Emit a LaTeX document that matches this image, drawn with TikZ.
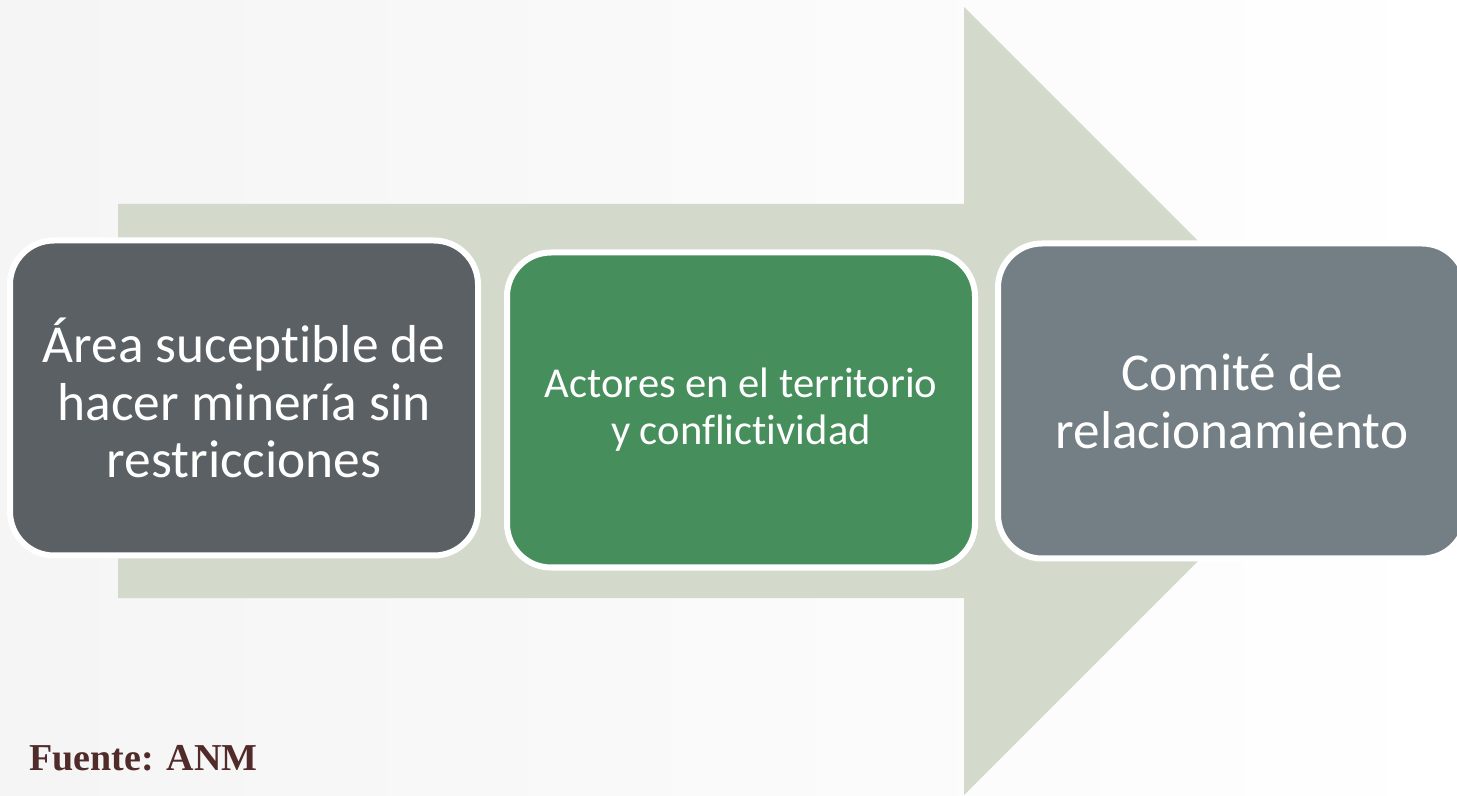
\documentclass[tikz,border=0pt]{standalone}
\usepackage{fontspec}
\setmainfont{Carlito}[Ligatures=NoCommon]
\newfontfamily\srcfont{Liberation Serif}
\definecolor{arrowgray}{HTML}{D4DACB}
\definecolor{boxdark}{HTML}{5A6064}
\definecolor{boxgreen}{HTML}{468E5C}
\definecolor{boxslate}{HTML}{737F84}
\definecolor{srcred}{HTML}{512A2A}
\tikzset{
  stepbox/.style={rectangle,rounded corners=22pt,draw=white,line width=3pt,
    minimum width=234pt,minimum height=157.5pt,inner sep=0pt,
    text=white,align=center}
}

\begin{document}
\begin{tikzpicture}[x=0.5pt,y=-0.5pt]
  \useasboundingbox (0,0) rectangle (1457,796);
  \shade[left color=black!4,right color=white] (0,0) rectangle (1457,796);

  % big arrow behind the boxes
  \fill[arrowgray] (118,204) -- (964,204) -- (964,7) -- (1358,401)
    -- (964,795) -- (964,598) -- (118,598) -- cycle;

  \node[stepbox,fill=boxdark,font=\fontsize{26.7}{28.8}\selectfont] (area) at (244,398)
    {Área suceptible de\\hacer minería sin\\restricciones};
  \node[stepbox,fill=boxgreen,font=\fontsize{21.3}{23.5}\selectfont] (actores) at (741,410)
    {Actores en el territorio\\y conflictividad};
  \node[stepbox,fill=boxslate,font=\fontsize{26.6}{29}\selectfont] (comite) at (1232,401)
    {Comité de\\relacionamiento};

  \node[anchor=base west,inner sep=0pt,text=srcred,font=\srcfont\bfseries\fontsize{19}{23}\selectfont]
    (fuente) at (29,770) {Fuente: ANM};
\end{tikzpicture}
\end{document}
